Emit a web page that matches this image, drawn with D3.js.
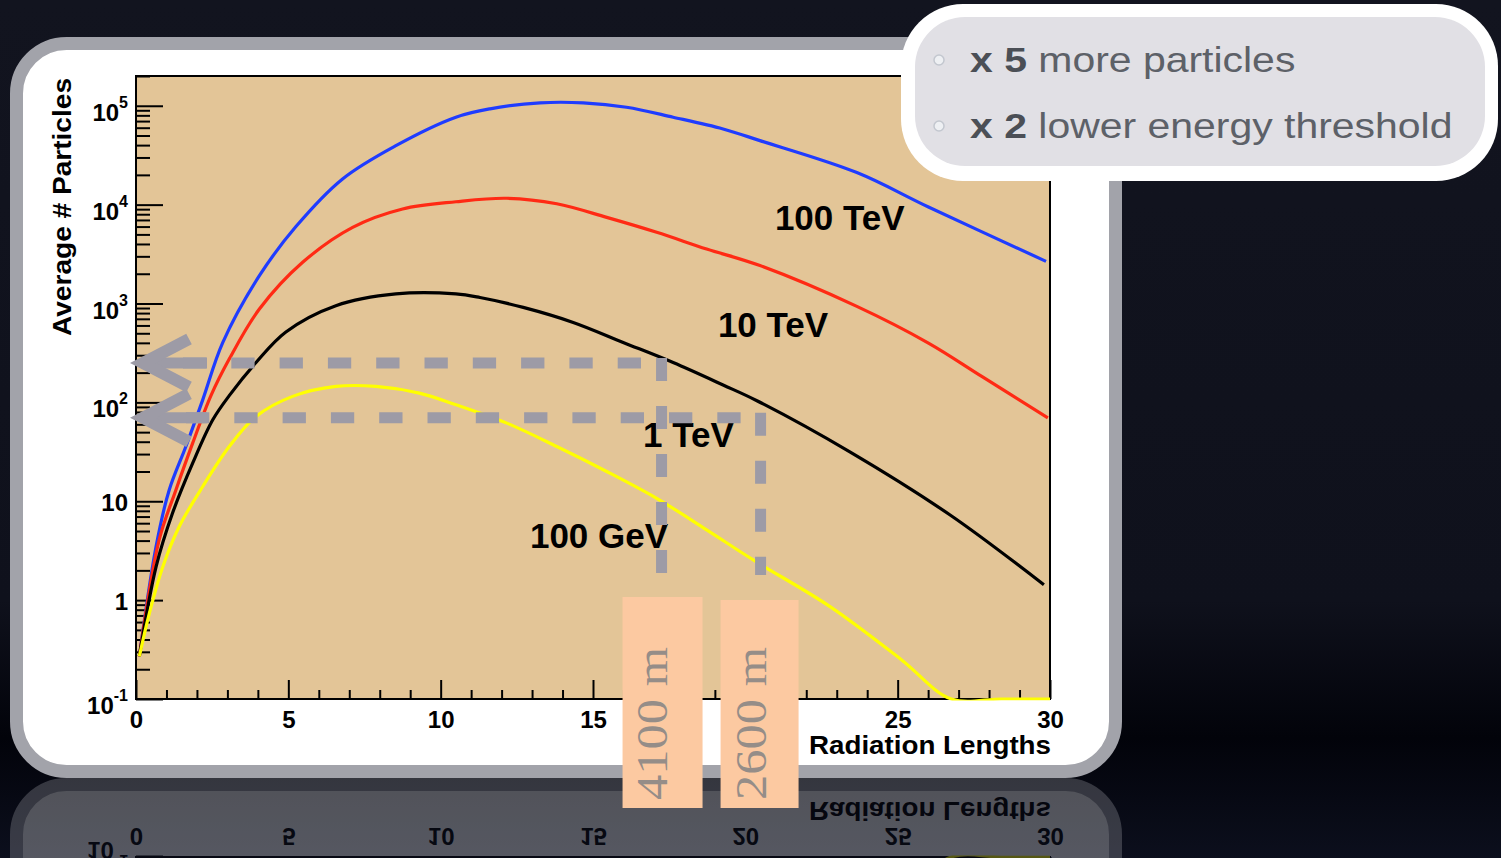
<!DOCTYPE html>
<html>
<head>
<meta charset="utf-8">
<script src="https://cdn.jsdelivr.net/npm/d3@7"></script>
<style>
body { margin: 0; background: #000; overflow: hidden; }
svg { display: block; }
</style>
</head>
<body>
<div id="wrapper"></div>
<script>
// shower profiles: depth in radiation lengths, average number of particles
const curveNames = ["100 TeV", "10 TeV", "1 TeV", "100 GeV"];

const depth100TeV = [0.11, 0.66, 1.09, 1.64, 2.19, 2.85, 4.05, 5.25, 6.78, 8.53, 10.5, 11.62, 13.26, 14.68, 16.1, 17.63, 19.27, 20.48, 23.66, 26.01, 29.87];
const count100TeV = [0.27, 3.5, 13, 36, 106, 404, 1910, 6000, 18200, 39500, 76600, 93100, 107000, 107000, 96600, 76600, 58300, 44400, 21100, 9460, 2670];

const depth10TeV = [0.11, 0.76, 1.31, 1.86, 2.46, 3.06, 4.05, 5.47, 7.11, 8.75, 10.5, 12.17, 13.81, 15.45, 17.09, 18.73, 20.48, 23.66, 26.01, 27.76, 29.93];
const count10TeV = [0.27, 4.06, 13, 38.7, 117, 274, 879, 2610, 5890, 9040, 10700, 11600, 10200, 7430, 5250, 3560, 2420, 935, 398, 183, 69.8];

const depth1TeV = [0.11, 0.66, 1.2, 1.86, 2.52, 3.06, 3.94, 4.92, 6.56, 8.53, 10.5, 11.29, 12.71, 14.35, 15.99, 17.63, 19.27, 20.38, 23.43, 26.71, 29.8];
const count1TeV = [0.27, 2.18, 7.6, 24.3, 66.7, 117, 253, 515, 950, 1250, 1250, 1150, 914, 644, 404, 253, 150, 104, 31.6, 7.3, 1.43];

const depth100GeV = [0.11, 0.44, 0.88, 1.42, 2.19, 3.06, 3.94, 5.14, 6.56, 7.88, 9.3, 10.5, 12.17, 13.81, 15.45, 17.09, 18.73, 20.26, 22.78, 25.12, 26.76, 28.4, 30];
const count100GeV = [0.27, 0.74, 2.18, 5.55, 14.1, 35.8, 72, 115, 145, 145, 124, 94.6, 61.7, 35.8, 20, 10.7, 5.14, 2.55, 0.86, 0.25, 0.1, 0.1, 0.1];

// where each curve name sits (depth, particles)
const labelDepth = [20.97, 19.1, 16.64, 12.93];
const labelCount = [5550, 458, 35.4, 3.37];

const xTicks = [0, 5, 10, 15, 20, 25, 30];
const yDecades = [0.1, 1, 10, 100, 1000, 1e4, 1e5];
const yTickBase = ["10", "1", "10", "10", "10", "10", "10"];
const yTickExp = ["-1", "", "", "2", "3", "4", "5"];

// dashed read-off lines: particle level and depth where they hit the curves
const readLevels = [250, 70];
const readDepths = [17.25, 20.5];
const readFloor = 1.8;
const boxLabels = ["4100 m", "2600 m"];

const calloutBold = ["x 5", "x 2"];
const calloutText = ["more particles", "lower energy threshold"];

const colors = ["#1f3cff", "#ff2a14", "#000000", "#ffff00"];

const W = 1501, H = 858;
const plot = { left: 136, right: 1050, top: 76, bottom: 699 };

const svg = d3.select("#wrapper").append("svg")
    .attr("width", W)
    .attr("height", H);

const defs = svg.append("defs");
const bg = defs.append("linearGradient").attr("id", "bg")
    .attr("x1", 0).attr("y1", 0).attr("x2", 0).attr("y2", 1);
bg.append("stop").attr("offset", 0).attr("stop-color", "#12141f");
bg.append("stop").attr("offset", 0.7).attr("stop-color", "#0f111c");
bg.append("stop").attr("offset", 0.86).attr("stop-color", "#02030a");
bg.append("stop").attr("offset", 1).attr("stop-color", "#0c0f1d");

defs.append("clipPath").attr("id", "plotClip")
    .append("rect")
    .attr("x", plot.left).attr("y", plot.top - 2)
    .attr("width", plot.right - plot.left).attr("height", plot.bottom - plot.top + 3.5);

defs.append("clipPath").attr("id", "reflClip")
    .append("rect")
    .attr("x", 0).attr("y", 778)
    .attr("width", W).attr("height", H - 778);

svg.append("rect").attr("width", W).attr("height", H).attr("fill", "url(#bg)");

const xScale = d3.scaleLinear().domain([0, 30]).range([plot.left, plot.right]);
const yScale = d3.scaleLog().domain([0.1, 2e5]).range([plot.bottom, plot.top]);

const panel = svg.append("g").attr("id", "panel");

panel.append("rect")
    .attr("x", 16.5).attr("y", 43.5)
    .attr("width", 1099).attr("height", 728)
    .attr("rx", 50)
    .attr("fill", "#ffffff")
    .attr("stroke", "#a2a3aa")
    .attr("stroke-width", 13);

panel.append("rect")
    .attr("x", plot.left).attr("y", plot.top)
    .attr("width", plot.right - plot.left).attr("height", plot.bottom - plot.top)
    .attr("fill", "#e3c597");

// ticks
const xMinor = d3.range(0, 31, 1).filter(d => d % 5 !== 0);
panel.append("g")
    .attr("transform", `translate(0,${plot.bottom})`)
    .call(d3.axisBottom(xScale).tickValues(xMinor).tickSizeInner(-9).tickSizeOuter(0).tickFormat(""))
    .call(g => g.select(".domain").remove())
    .call(g => g.selectAll("line").attr("stroke-width", 2));

const xAxis = panel.append("g")
    .attr("transform", `translate(0,${plot.bottom})`)
    .call(d3.axisBottom(xScale).tickValues(xTicks).tickSizeInner(-19).tickSizeOuter(0).tickPadding(12).tickFormat(d3.format("d")))
    .call(g => g.select(".domain").remove())
    .call(g => g.selectAll("line").attr("stroke-width", 2));
xAxis.selectAll("text")
    .attr("font-family", "'Liberation Sans', Arial, sans-serif")
    .attr("font-weight", "bold")
    .attr("font-size", 24)
    .attr("fill", "#000");

const yMinor = [];
yDecades.forEach(d => {
    for (let k = 2; k <= 9; k++) {
        if (d * k <= 2e5) yMinor.push(d * k);
    }
});
panel.append("g")
    .attr("transform", `translate(${plot.left},0)`)
    .call(d3.axisLeft(yScale).tickValues(yMinor).tickSizeInner(-14).tickSizeOuter(0).tickFormat(""))
    .call(g => g.select(".domain").remove())
    .call(g => g.selectAll("line").attr("stroke-width", 2));
panel.append("g")
    .attr("transform", `translate(${plot.left},0)`)
    .call(d3.axisLeft(yScale).tickValues(yDecades).tickSizeInner(-27).tickSizeOuter(0).tickFormat(""))
    .call(g => g.select(".domain").remove())
    .call(g => g.selectAll("line").attr("stroke-width", 2));

// y tick labels with exponents
yDecades.forEach((d, i) => {
    const hasExp = yTickExp[i] !== "";
    const t = panel.append("text")
        .attr("x", 128)
        .attr("y", yScale(d) + (hasExp ? 15 : 10))
        .attr("text-anchor", "end")
        .attr("font-family", "'Liberation Sans', Arial, sans-serif")
        .attr("font-weight", "bold")
        .attr("font-size", 24)
        .attr("fill", "#000");
    t.append("tspan").text(yTickBase[i]);
    if (hasExp) {
        t.append("tspan")
            .attr("dy", -13)
            .attr("font-size", 16)
            .text(yTickExp[i]);
    }
});

panel.append("rect")
    .attr("x", plot.left).attr("y", plot.top)
    .attr("width", plot.right - plot.left).attr("height", plot.bottom - plot.top)
    .attr("fill", "none")
    .attr("stroke", "#000")
    .attr("stroke-width", 2);

// axis titles
panel.append("text")
    .attr("transform", "translate(71,207) rotate(-90)")
    .attr("text-anchor", "middle")
    .attr("font-family", "'Liberation Sans', Arial, sans-serif")
    .attr("font-weight", "bold")
    .attr("font-size", 25)
    .attr("textLength", 258)
    .attr("lengthAdjust", "spacingAndGlyphs")
    .text("Average # Particles");

panel.append("text")
    .attr("x", 809).attr("y", 754)
    .attr("font-family", "'Liberation Sans', Arial, sans-serif")
    .attr("font-weight", "bold")
    .attr("font-size", 26)
    .attr("textLength", 242)
    .attr("lengthAdjust", "spacingAndGlyphs")
    .text("Radiation Lengths");

// curves
const series = [
    depth100TeV.map((d, i) => ({ x: d, y: count100TeV[i] })),
    depth10TeV.map((d, i) => ({ x: d, y: count10TeV[i] })),
    depth1TeV.map((d, i) => ({ x: d, y: count1TeV[i] })),
    depth100GeV.map((d, i) => ({ x: d, y: count100GeV[i] }))
];

const line = d3.line()
    .x(d => xScale(d.x))
    .y(d => yScale(d.y))
    .curve(d3.curveCatmullRom.alpha(0.5));

panel.append("g")
    .attr("clip-path", "url(#plotClip)")
    .selectAll("path")
    .data(series)
    .join("path")
    .attr("d", line)
    .attr("fill", "none")
    .attr("stroke", (d, i) => colors[i])
    .attr("stroke-width", 3.2)
    .attr("stroke-linejoin", "round");

panel.selectAll(".curve-label")
    .data(curveNames)
    .join("text")
    .attr("class", "curve-label")
    .attr("x", (d, i) => xScale(labelDepth[i]))
    .attr("y", (d, i) => yScale(labelCount[i]))
    .attr("font-family", "'Liberation Sans', Arial, sans-serif")
    .attr("font-weight", "bold")
    .attr("font-size", 35)
    .attr("fill", "#000")
    .text(d => d);

// dashed read-off lines with arrows
const ann = svg.append("g")
    .attr("stroke", "#9d9ba6")
    .attr("fill", "none")
    .attr("stroke-width", 11);

const tipX = xScale(0.23);
readLevels.forEach((lev, i) => {
    const yy = yScale(lev);
    const xx = xScale(readDepths[i]);
    ann.append("line")
        .attr("x1", tipX + 2).attr("x2", tipX + 64)
        .attr("y1", yy).attr("y2", yy);
    ann.append("line")
        .attr("x1", tipX + 40 + (i === 0 ? 0 : 3)).attr("x2", xx - 5)
        .attr("y1", yy).attr("y2", yy)
        .attr("stroke-dasharray", "23.3 25");
    ann.append("line")
        .attr("x1", xx).attr("x2", xx)
        .attr("y1", yy - 5).attr("y2", yScale(readFloor))
        .attr("stroke-dasharray", "23 25");
    ann.append("polyline")
        .attr("points", [[tipX + 46, yy - 24], [tipX, yy], [tipX + 46, yy + 24]].join(" "))
        .attr("stroke-width", 12)
        .attr("stroke-linejoin", "miter");
});

// depth boxes
readDepths.forEach((dep, i) => {
    const cx = xScale(dep);
    svg.append("rect")
        .attr("x", cx - 40 + (i === 0 ? 1 : 0))
        .attr("y", i === 0 ? 597 : 600)
        .attr("width", 80 - (i === 0 ? 0 : 2))
        .attr("height", i === 0 ? 211 : 208)
        .attr("fill", "#fcc9a1");
    svg.append("text")
        .attr("transform", `translate(${cx + 5},800) rotate(-90)`)
        .attr("font-family", "'Liberation Serif', 'Times New Roman', serif")
        .attr("font-size", 44)
        .attr("fill", "#958d88")
        .attr("textLength", 153)
        .attr("lengthAdjust", "spacingAndGlyphs")
        .text(boxLabels[i]);
});

// callout
const callout = svg.append("g");
callout.append("rect")
    .attr("x", 901).attr("y", 4)
    .attr("width", 597).attr("height", 177)
    .attr("rx", 62)
    .attr("fill", "#ffffff");
callout.append("rect")
    .attr("x", 915).attr("y", 17)
    .attr("width", 570).attr("height", 149)
    .attr("rx", 50)
    .attr("fill", "#e1e0e5");

calloutText.forEach((txt, i) => {
    const by = 72 + i * 66;
    callout.append("circle")
        .attr("cx", 939).attr("cy", by - 12)
        .attr("r", 5)
        .attr("fill", "#eef0f3")
        .attr("stroke", "#c3c7cf")
        .attr("stroke-width", 1.5);
    const t = callout.append("text")
        .attr("transform", `translate(970,${by}) scale(1.17,1)`)
        .attr("font-family", "'Liberation Sans', Arial, sans-serif")
        .attr("font-size", 35)
        .attr("fill", "#5d6168");
    t.append("tspan").attr("font-weight", "bold").attr("fill", "#4b4f56").text(calloutBold[i]);
    t.append("tspan").text(" " + txt);
});

// reflection of the panel under the slide
svg.append("g")
    .attr("clip-path", "url(#reflClip)")
    .attr("opacity", 0.3)
    .append("use")
    .attr("href", "#panel")
    .attr("transform", "translate(0,1556) scale(1,-1)");

// boxes sit over the reflection too, so bring them to front
svg.selectAll("rect[fill='#fcc9a1'], text[font-size='44']").raise();
</script>
</body>
</html>
